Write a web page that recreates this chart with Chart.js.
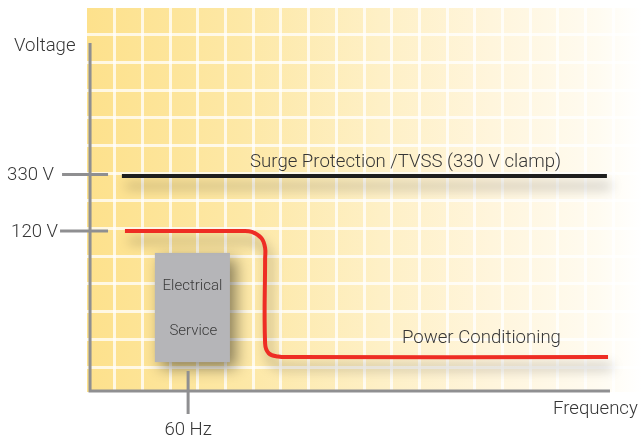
<!DOCTYPE html>
<html>
<head>
<meta charset="utf-8">
<script src="https://cdn.jsdelivr.net/npm/chart.js@4/dist/chart.umd.min.js"></script>
<style>
  html, body { margin: 0; padding: 0; background: #ffffff; }
  canvas { display: block; }
</style>
</head>
<body>
<canvas id="c" width="641" height="438"></canvas>
<script>
// ---- Data (conceptual units: one grid cell = 1 unit) ----
const surgeX = [1.26, 18.77];
const surgeY = [7.90, 7.90];
const condX = [1.37, 5.55, 5.95, 6.30, 6.43, 6.43, 6.43, 6.56, 6.90, 7.30, 18.81];
const condY = [5.91, 5.91, 5.88, 5.65, 5.30, 4.90, 1.85, 1.50, 1.38, 1.36, 1.36];
const yTickValues = [7.95, 5.91];
const yTickLabels = ["330 V", "120 V"];
const xTickValues = [3.65];
const xTickLabels = ["60 Hz"];
const serviceBox = { x0: 2.45, x1: 5.16, y0: 1.18, y1: 5.12 };
const serviceLabels = ["Electrical", "Service"];
const seriesLabels = ["Surge Protection /TVSS (330 V clamp)", "Power Conditioning"];
const axisTitles = ["Voltage", "Frequency"];
const axisEnds = { xMax: 18.88, yMax: 12.7 };

const FONT = "Roboto, 'Liberation Sans', sans-serif";
const TEXT = "#363636";
const MAINFONT = "300 18.6px " + FONT;

const toPts = (xs, ys) => xs.map((x, i) => ({ x, y: ys[i] }));

const bgPlugin = {
  id: 'bg',
  beforeDraw(chart) {
    const { ctx, chartArea: a } = chart;
    const g = ctx.createLinearGradient(a.left, 0, a.right, 0);
    g.addColorStop(0, '#fde18c');
    g.addColorStop(0.28, '#fde8a6');
    g.addColorStop(0.53, '#fef0c6');
    g.addColorStop(0.73, '#fff5dc');
    g.addColorStop(0.92, '#fffbf0');
    g.addColorStop(1, '#ffffff');
    ctx.save();
    ctx.fillStyle = g;
    ctx.fillRect(a.left, a.top, a.right - a.left, a.bottom - a.top);
    ctx.restore();
  }
};

const shadowPlugin = {
  id: 'shadow',
  beforeDatasetDraw(chart, args) {
    const ctx = chart.ctx;
    ctx.save();
    ctx.shadowColor = 'rgba(0,0,0,0.35)';
    ctx.shadowBlur = 12;
    ctx.shadowOffsetX = 4;
    ctx.shadowOffsetY = 10;
  },
  afterDatasetDraw(chart) {
    chart.ctx.restore();
  }
};

const overlayPlugin = {
  id: 'overlay',
  beforeDatasetsDraw(chart) {
    const { ctx, scales: { x, y } } = chart;
    // Electrical service box
    const bx0 = x.getPixelForValue(serviceBox.x0), bx1 = x.getPixelForValue(serviceBox.x1);
    const by0 = y.getPixelForValue(serviceBox.y1), by1 = y.getPixelForValue(serviceBox.y0);
    ctx.save();
    ctx.shadowColor = 'rgba(0,0,0,0.45)';
    ctx.shadowBlur = 14;
    ctx.shadowOffsetX = 6;
    ctx.shadowOffsetY = 6;
    ctx.fillStyle = '#b5b5b8';
    ctx.fillRect(bx0, by0, bx1 - bx0, by1 - by0);
    ctx.restore();
    ctx.save();
    ctx.fillStyle = '#3a3a3a';
    ctx.font = "300 15px " + FONT;
    ctx.textAlign = 'center';
    ctx.textBaseline = 'middle';
    const cx = (bx0 + bx1) / 2;
    ctx.fillText(serviceLabels[0], cx, by0 + 33);
    ctx.fillText(serviceLabels[1], cx + 1, by0 + 78);
    ctx.restore();

    // axes
    const ax = x.getPixelForValue(0.11);
    const ayTop = y.getPixelForValue(axisEnds.yMax);
    const ayBot = y.getPixelForValue(0.1) - 1;
    const axRight = x.getPixelForValue(axisEnds.xMax);
    ctx.save();
    ctx.strokeStyle = '#8f8f91';
    ctx.lineWidth = 3;
    ctx.lineCap = 'butt';
    ctx.beginPath();
    ctx.moveTo(ax, ayTop);
    ctx.lineTo(ax, ayBot);
    ctx.lineTo(axRight, ayBot);
    ctx.stroke();
    // y ticks
    ctx.font = MAINFONT;
    ctx.fillStyle = TEXT;
    ctx.textBaseline = 'middle';
    yTickValues.forEach((v, i) => {
      const py = y.getPixelForValue(v);
      ctx.beginPath();
      ctx.moveTo(i === 0 ? ax - 28 : ax - 30, py);
      ctx.lineTo(ax + 18, py);
      ctx.stroke();
      ctx.textAlign = 'right';
      ctx.fillText(yTickLabels[i], i === 0 ? ax - 36 : ax - 32, py + 1);
    });
    // x ticks
    xTickValues.forEach((v, i) => {
      const px = x.getPixelForValue(v);
      ctx.beginPath();
      ctx.moveTo(px, ayBot - 20);
      ctx.lineTo(px, ayBot + 23);
      ctx.stroke();
      ctx.textAlign = 'center';
      ctx.fillText(xTickLabels[i], px, ayBot + 39);
    });
    // axis titles
    ctx.textAlign = 'left';
    ctx.fillText(axisTitles[0], 14, 46);
    ctx.fillText(axisTitles[1], 553, ayBot + 18);
    ctx.restore();
  },
  afterDatasetsDraw(chart) {
    const { ctx, scales: { x, y } } = chart;
    ctx.save();
    ctx.font = MAINFONT;
    ctx.fillStyle = TEXT;
    ctx.textAlign = 'center';
    ctx.textBaseline = 'middle';
    ctx.fillText(seriesLabels[0], x.getPixelForValue(11.5), y.getPixelForValue(surgeY[0]) - 14);
    ctx.fillText(seriesLabels[1], x.getPixelForValue(14.24), y.getPixelForValue(condY[condY.length - 1]) - 19);
    ctx.restore();
  }
};

new Chart(document.getElementById('c'), {
  type: 'line',
  data: {
    datasets: [
      {
        label: seriesLabels[0],
        data: toPts(surgeX, surgeY),
        borderColor: '#1e1e1e',
        borderWidth: 4,
        pointRadius: 0,
        tension: 0
      },
      {
        label: seriesLabels[1],
        data: toPts(condX, condY),
        borderColor: '#ee2d24',
        borderWidth: 4,
        pointRadius: 0,
        tension: 0.4,
        borderCapStyle: 'butt'
      }
    ]
  },
  options: {
    responsive: false,
    devicePixelRatio: 1,
    animation: false,
    events: [],
    layout: { padding: { left: 87, top: 8, right: 0, bottom: 46 } },
    plugins: { legend: { display: false }, tooltip: { enabled: false } },
    scales: {
      x: {
        type: 'linear', min: 0, max: 20,
        ticks: { display: false, stepSize: 1 },
        border: { display: false },
        grid: {
          drawTicks: false,
          lineWidth: 3,
          color: (c) => (c.tick && (c.tick.value === 0 || c.tick.value === 20)) ? 'rgba(0,0,0,0)' : 'rgba(255,255,255,0.75)'
        }
      },
      y: {
        type: 'linear', min: 0.1, max: 13.96,
        ticks: { display: false, stepSize: 1 },
        border: { display: false },
        grid: {
          drawTicks: false,
          lineWidth: 3,
          color: (c) => (c.tick && Number.isInteger(c.tick.value)) ? 'rgba(255,255,255,0.75)' : 'rgba(0,0,0,0)'
        }
      }
    }
  },
  plugins: [bgPlugin, shadowPlugin, overlayPlugin]
});
</script>
</body>
</html>
